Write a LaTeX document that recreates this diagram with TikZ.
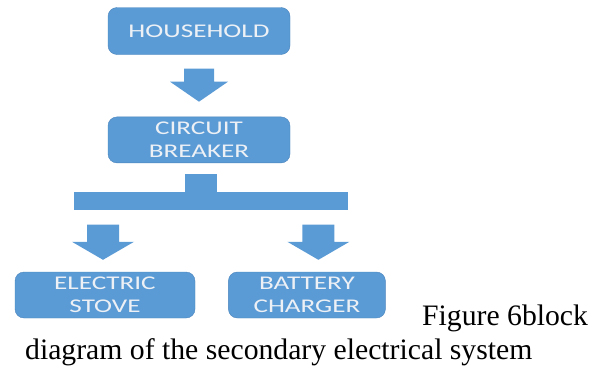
\documentclass[tikz,border=0pt]{standalone}
\usepackage{fontspec}
\usepackage{xcolor}
\usepackage{tikz}
\usetikzlibrary{positioning, calc}
\newfontfamily\blockfont[FakeStretch=1.4]{Carlito}
\newfontfamily\capfont{Liberation Serif}
\definecolor{boxblue}{HTML}{5B9BD5}
\definecolor{boxedge}{HTML}{4A84BD}
\definecolor{boxtext}{HTML}{EDF1F6}
\newcommand{\blockarrow}[5]{%
  \fill[boxblue] ($(#1)+(-#3,0)$) -- ($(#2)+(-#3,#5)$) -- ($(#2)+(-#4,#5)$) -- (#2)
    -- ($(#2)+(#4,#5)$) -- ($(#2)+(#3,#5)$) -- ($(#1)+(#3,0)$) -- cycle;}

\begin{document}
\begin{tikzpicture}[
  x=1pt, y=-1pt,
  block/.style={draw=boxedge, fill=boxblue, rounded corners=9pt, minimum height=46pt, inner sep=0pt, align=center, text=boxtext, font=\blockfont\fontsize{19.4}{23}\selectfont},
  bus/.style={fill=boxblue, inner sep=0pt, minimum height=18pt},
  caption/.style={inner sep=0pt, anchor=base west, font=\capfont\fontsize{29.7}{34}\selectfont}
]
  \useasboundingbox (0,0) rectangle (597,372);
  \node[block, minimum width=182pt, minimum height=47pt] (hh) at (199,31) {HOUSEHOLD};
  \node[block, minimum width=182pt, below=62pt of hh] (cb) {CIRCUIT\\BREAKER};
  \node[bus, minimum width=32pt] (stem) at (201,183) {};
  \node[bus, minimum width=274pt, below=0pt of stem, xshift=10pt] (bar) {};
  \node[block, minimum width=180pt] (es) at (105,295) {ELECTRIC\\STOVE};
  \node[block, minimum width=157pt, right=33pt of es] (bc) {BATTERY\\CHARGER};
  \coordinate (a1s) at ([yshift=-14pt]hh.south);
  \coordinate (a1t) at ([yshift=15pt]cb.north);
  \coordinate (a2x) at (bar.south -| es.north);
  \coordinate (a2s) at ([shift={(-2pt,-14pt)}]a2x);
  \coordinate (a2t) at ([shift={(-2pt,12pt)}]es.north);
  \coordinate (a3x) at (bar.south -| bc.north);
  \coordinate (a3s) at ([shift={(11.5pt,-14pt)}]a3x);
  \coordinate (a3t) at ([shift={(11.5pt,12pt)}]bc.north);
  \blockarrow{a1s}{a1t}{15pt}{29pt}{20pt}
  \blockarrow{a2s}{a2t}{16pt}{31pt}{18pt}
  \blockarrow{a3s}{a3t}{16pt}{31pt}{18pt}
  \node[caption] (cap1) at (422,325) {Figure 6block};
  \node[caption] (cap2) at (25,359) {diagram of the secondary electrical system};
\end{tikzpicture}
\end{document}
